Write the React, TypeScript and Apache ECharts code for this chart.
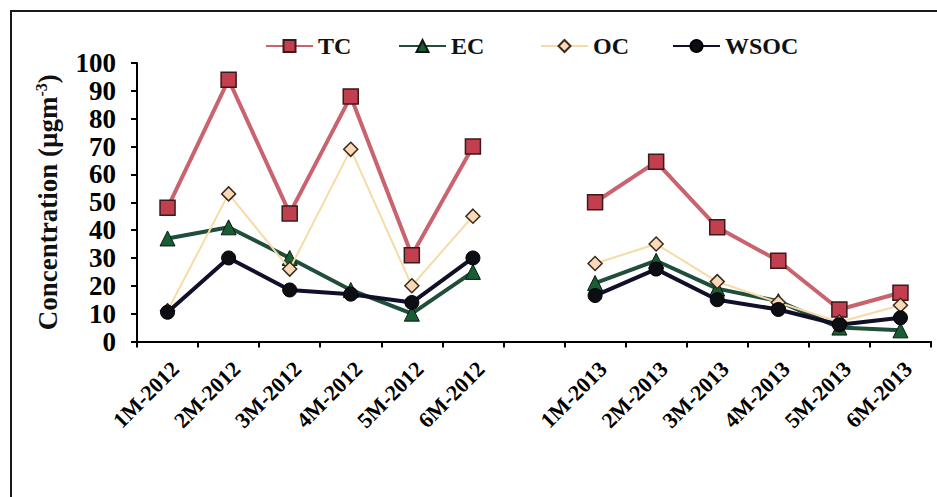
import React, { useEffect, useRef } from "react";
import * as echarts from "echarts";

// Sampling months, with an empty slot separating the two campaigns
const categories = [
  "1M-2012", "2M-2012", "3M-2012", "4M-2012", "5M-2012", "6M-2012",
  "",
  "1M-2013", "2M-2013", "3M-2013", "4M-2013", "5M-2013", "6M-2013",
];

// Concentrations in µg m⁻³ ("-" marks the gap between years)
const tcValues = [48, 94, 46, 88, 31, 70, "-", 50, 64.5, 41, 29, 11.5, 17.5];
const ecValues = [37, 41, 30, 18.5, 10, 25, "-", 21, 29, 19, 14.5, 5, 4];
const ocValues = [11, 53, 26, 69, 20, 45, "-", 28, 35, 21.5, 14, 7, 13];
const wsocValues = [10.5, 30, 18.5, 17, 14, 30, "-", 16.5, 26, 15, 11.5, 6, 8.5];

const FONT = "'Liberation Serif', 'Times New Roman', serif";

export default function App() {
  const ref = useRef<HTMLDivElement>(null);

  useEffect(() => {
    document.body.style.margin = "0";
    if (!ref.current) return;
    const chart = echarts.init(ref.current, null, { renderer: "svg" });

    const legendText = { fontFamily: FONT, fontWeight: "bold", fontSize: 24, color: "#111" };
    const mkLegend = (name: string, left: number) => ({
      data: [name],
      left,
      top: 34,
      padding: 0,
      itemWidth: 47,
      itemHeight: 15,
      itemGap: 0,
      textStyle: legendText,
      selectedMode: false,
    });

    chart.setOption({
      animation: false,
      backgroundColor: "#fff",
      graphic: [
        {
          type: "rect",
          shape: { x: 11, y: 11, width: 1000, height: 1000 },
          style: { fill: "none", stroke: "#1a1a1a", lineWidth: 2 },
          silent: true,
        },
      ],
      legend: [
        mkLegend("TC", 265),
        mkLegend("EC", 398),
        mkLegend("OC", 540),
        mkLegend("WSOC", 672),
      ],
      grid: { left: 137, right: 6, top: 63, bottom: 155.5, containLabel: false },
      xAxis: {
        type: "category",
        data: categories,
        boundaryGap: true,
        axisLine: { lineStyle: { color: "#000", width: 2 } },
        axisTick: { show: true, length: 6, inside: false, lineStyle: { color: "#000", width: 2 } },
        axisLabel: {
          rotate: 45,
          interval: 0,
          margin: 16,
          verticalAlign: "top",
          fontFamily: FONT,
          fontWeight: "bold",
          fontSize: 22,
          color: "#000",
        },
        splitLine: { show: false },
      },
      yAxis: {
        type: "value",
        min: 0,
        max: 100,
        interval: 10,
        name: "{n|Concentration (µgm}{s|-3}{n|)}",
        nameLocation: "middle",
        nameRotate: 90,
        nameGap: 74,
        nameTextStyle: {
          rich: {
            n: { fontFamily: FONT, fontWeight: "bold", fontSize: 27, color: "#111", lineHeight: 30 },
            s: { fontFamily: FONT, fontWeight: "bold", fontSize: 16, color: "#111", lineHeight: 30, verticalAlign: "top" },
          },
        },
        axisLine: { show: true, lineStyle: { color: "#000", width: 2 } },
        axisTick: { show: true, length: 6, inside: false, lineStyle: { color: "#000", width: 2 } },
        axisLabel: {
          margin: 21,
          fontFamily: FONT,
          fontWeight: "bold",
          fontSize: 27,
          lineHeight: 25,
          color: "#000",
        },
        splitLine: { show: false },
      },
      series: [
        {
          name: "TC",
          type: "line",
          data: tcValues,
          connectNulls: false,
          symbol: "rect",
          symbolSize: 15,
          lineStyle: { color: "#c9636e", width: 4 },
          itemStyle: { color: "#c23f4f", borderColor: "#3a1a1a", borderWidth: 1.5 },
          z: 2,
        },
        {
          name: "EC",
          type: "line",
          data: ecValues,
          connectNulls: false,
          symbol: "triangle",
          symbolSize: 15,
          lineStyle: { color: "#1f4e3a", width: 4 },
          itemStyle: { color: "#1a5c34", borderColor: "#0a1a10", borderWidth: 1 },
          z: 3,
        },
        {
          name: "OC",
          type: "line",
          data: ocValues,
          connectNulls: false,
          symbol: "diamond",
          symbolSize: 14,
          lineStyle: { color: "#f6dba6", width: 2 },
          itemStyle: { color: "#fbd8b8", borderColor: "#3a2a1a", borderWidth: 1.5 },
          z: 4,
        },
        {
          name: "WSOC",
          type: "line",
          data: wsocValues,
          connectNulls: false,
          symbol: "circle",
          symbolSize: 14,
          lineStyle: { color: "#10102a", width: 4 },
          itemStyle: { color: "#0d0d14", borderColor: "#000", borderWidth: 1 },
          z: 5,
        },
      ],
    });

    return () => chart.dispose();
  }, []);

  return <div ref={ref} style={{ width: 937, height: 497 }} />;
}
